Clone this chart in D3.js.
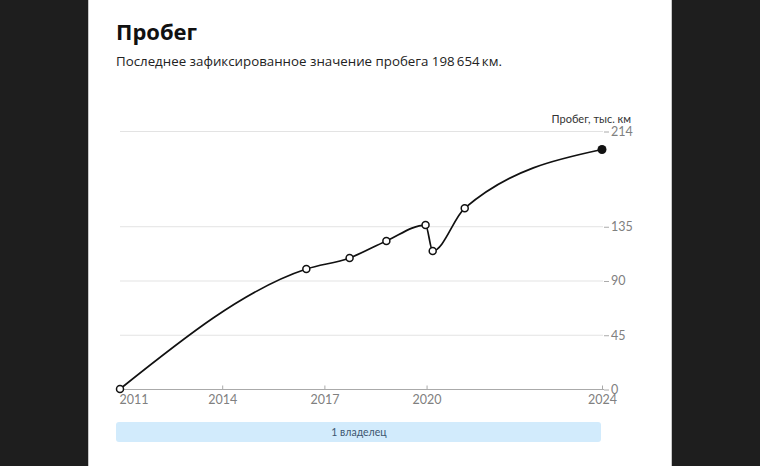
<!DOCTYPE html>
<html><head><meta charset="utf-8">
<script src="https://cdn.jsdelivr.net/npm/d3@7"></script>
<style>html,body{margin:0;padding:0;background:#1e1e1e;}svg{display:block;}</style>
</head><body>
<svg id="c" width="760" height="466"></svg>
<script>
const years = [2011.0, 2016.47, 2017.74, 2018.82, 2019.97, 2020.18, 2021.12, 2025.15];
const mileage = [0, 99.5, 108.7, 122.8, 136, 114.5, 150, 198.654];
const xTickValues = [2011, 2014, 2017, 2020, 2025.15];
const xTickLabels = ["2011", "2014", "2017", "2020", "2024"];
const yTickValues = [0, 45, 90, 135, 214];
const owners = ["1 владелец"];

const svg = d3.select("#c");
svg.append("rect").attr("x", 88.5).attr("y", -2).attr("width", 583).attr("height", 470)
  .attr("fill", "#fff").attr("stroke", "#c8c8c8");

svg.append("text").attr("x", 116).attr("y", 40).text("Пробег")
  .attr("font-family", "Open Sans").attr("font-weight", 700).attr("font-size", 22).attr("fill", "#111");
svg.append("text").attr("x", 116).attr("y", 66).text("Последнее зафиксированное значение пробега 198\u2009654\u2009км.")
  .attr("font-family", "Open Sans").attr("font-size", 13.3).attr("fill", "#222");

const x = d3.scaleLinear().domain([2011, 2025.15]).range([120, 602]);
const y = d3.scaleLinear().domain([0, 214]).range([389, 131]);

// grid
svg.append("g").selectAll("line").data(yTickValues.filter(d => d > 0)).join("line")
  .attr("x1", 120).attr("x2", 603).attr("y1", d => y(d) + 0.5).attr("y2", d => y(d) + 0.5)
  .attr("stroke", "#e3e3e3").attr("stroke-width", 1);

// right y axis
const yAxis = d3.axisRight(y).tickValues(yTickValues).tickSize(5).tickPadding(2);
const gy = svg.append("g").attr("transform", "translate(604,0.5)").call(yAxis);
gy.select(".domain").remove();
gy.selectAll(".tick line").attr("stroke", "#aaa");
gy.selectAll(".tick text").attr("font-family", "Lato").attr("font-size", 12.5).attr("fill", "#808080");

svg.append("text").attr("x", 631).attr("y", 123).attr("text-anchor", "end").text("Пробег, тыс. км")
  .attr("font-family", "Lato").attr("font-size", 11).attr("fill", "#333");

// x axis
const xAxis = d3.axisBottom(x).tickValues(xTickValues).tickFormat((d, i) => xTickLabels[i]).tickSize(-4).tickPadding(6);
const gx = svg.append("g").attr("transform", "translate(0,389.5)").call(xAxis);
gx.select(".domain").attr("d", "M120,0H604").attr("stroke", "#aaa");
gx.selectAll(".tick line").attr("stroke", "#aaa");
gx.selectAll(".tick text").attr("font-family", "Lato").attr("font-size", 12.5).attr("fill", "#808080");
gx.selectAll(".tick").filter((d, i) => i === 0).select("text").attr("text-anchor", "start").attr("x", -1);

// line
const pts = years.map((d, i) => [d, mileage[i]]);
svg.append("path").datum(pts)
  .attr("d", d3.line().x(d => x(d[0])).y(d => y(d[1])).curve(d3.curveMonotoneX))
  .attr("fill", "none").attr("stroke", "#111").attr("stroke-width", 1.7);

svg.append("g").selectAll("circle").data(pts.slice(0, -1)).join("circle")
  .attr("cx", d => x(d[0])).attr("cy", d => y(d[1])).attr("r", 3.5)
  .attr("fill", "#fff").attr("stroke", "#111").attr("stroke-width", 1.5);
const last = pts[pts.length - 1];
svg.append("circle").attr("cx", x(last[0])).attr("cy", y(last[1])).attr("r", 4.5).attr("fill", "#111");

// owners bar
svg.append("rect").attr("x", 116).attr("y", 422).attr("width", 485).attr("height", 20).attr("rx", 3)
  .attr("fill", "#d2ebfc");
svg.append("text").attr("x", 359).attr("y", 436).attr("text-anchor", "middle").text(owners[0])
  .attr("font-family", "Lato").attr("font-size", 10.5).attr("fill", "#3d5670");
</script>
</body></html>
